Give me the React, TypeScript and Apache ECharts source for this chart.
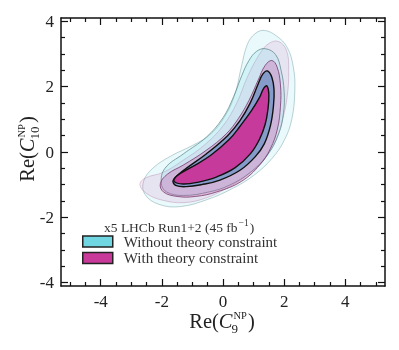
import React, { useEffect, useRef } from 'react';
import * as echarts from 'echarts';

const FONT = '"Liberation Serif", "DejaVu Serif", serif';

const X_RANGE = [-5.3, 5.3];
const Y_RANGE = [-4.1, 4.1];
const X_MAJOR = [-4, -2, 0, 2, 4];
const Y_MAJOR = [-4, -2, 0, 2, 4];
const X_MINOR = [-5, -4.5, -3.5, -3, -2.5, -1.5, -1, -0.5, 0.5, 1, 1.5, 2.5, 3, 3.5, 4.5, 5];
const Y_MINOR = [-3.5, -3, -2.5, -1.5, -1, -0.5, 0.5, 1, 1.5, 2.5, 3, 3.5];

const SERIES_NAMES = ['Without theory constraint', 'With theory constraint'];
const LEGEND_TITLE = 'x5 LHCb Run1+2 (45 fb';
const LEGEND_TITLE_SUP = '\u22121';
const X_TITLE_SUB = '9';
const Y_TITLE_SUB = '10';

// Contour outlines (Re C9, Re C10)
const cyan3 = [
  [1.35, 3.72], [1.75, 3.55], [2.1, 3.2], [2.3, 2.6], [2.35, 1.9], [2.25, 1.0], [2.0, 0.35],
  [1.6, -0.2], [1.0, -0.72], [0.3, -1.12], [-0.5, -1.45], [-1.4, -1.67], [-2.1, -1.6],
  [-2.55, -1.3], [-2.6, -0.9], [-2.3, -0.5], [-1.7, -0.12], [-1.0, 0.2], [-0.4, 0.55],
  [0.1, 1.15], [0.4, 1.8], [0.6, 2.6], [0.8, 3.3], [1.05, 3.62],
];
const magenta3 = [
  [1.82, 3.38], [2.08, 3.1], [2.15, 2.5], [2.1, 1.7], [1.95, 1.0], [1.72, 0.35], [1.35, -0.2],
  [0.8, -0.7], [0.1, -1.12], [-0.6, -1.42], [-1.3, -1.55], [-2.0, -1.47], [-2.5, -1.27],
  [-2.72, -1.0], [-2.55, -0.8], [-1.95, -0.62], [-1.3, -0.25], [-0.6, 0.22], [0.0, 0.8],
  [0.45, 1.5], [0.8, 2.3], [1.2, 3.0], [1.5, 3.32],
];
const cyan2 = [
  [1.39, 3.16], [1.72, 2.98], [1.9, 2.5], [2.0, 1.85], [1.98, 1.2], [1.82, 0.55], [1.45, -0.1],
  [0.9, -0.62], [0.2, -1.02], [-0.45, -1.22], [-1.3, -1.33], [-1.85, -1.22], [-2.02, -0.95],
  [-1.9, -0.5], [-1.3, -0.06], [-0.55, 0.45], [0.0, 1.05], [0.35, 1.7], [0.62, 2.35],
  [0.85, 2.8], [1.1, 3.08],
];
const magenta2 = [
  [1.6, 2.8], [1.77, 2.6], [1.88, 2.05], [1.88, 1.4], [1.78, 0.7], [1.55, 0.1], [1.2, -0.4],
  [0.6, -0.9], [-0.2, -1.22], [-0.9, -1.36], [-1.5, -1.36], [-1.95, -1.22], [-2.05, -0.97],
  [-1.82, -0.68], [-1.3, -0.4], [-0.55, 0.05], [0.1, 0.55], [0.5, 1.02], [0.85, 1.58],
  [1.15, 2.2], [1.38, 2.65],
];
const cyan1 = [
  [1.45, 2.48], [1.6, 2.28], [1.67, 1.9], [1.65, 1.4], [1.55, 0.8], [1.35, 0.25], [1.05, -0.15],
  [0.57, -0.55], [-0.1, -0.86], [-0.7, -1.0], [-1.2, -1.06], [-1.55, -1.02], [-1.63, -0.87],
  [-1.3, -0.57], [-0.55, -0.06], [0.15, 0.5], [0.55, 0.95], [0.88, 1.48], [1.15, 2.08],
  [1.3, 2.38],
];
const magenta1 = [
  [1.44, 2.02], [1.5, 1.75], [1.47, 1.3], [1.38, 0.85], [1.2, 0.4], [0.9, -0.05], [0.4, -0.48],
  [-0.2, -0.76], [-0.8, -0.92], [-1.3, -0.98], [-1.6, -0.9], [-1.52, -0.74], [-1.0, -0.45],
  [-0.4, -0.1], [0.2, 0.38], [0.55, 0.78], [0.92, 1.25], [1.2, 1.68], [1.33, 1.95],
];

const LAYERS = [
  { name: SERIES_NAMES[0], data: cyan3, fill: 'rgba(111,216,228,0.15)', stroke: 'rgba(120,165,170,0.5)', lw: 1 },
  { name: SERIES_NAMES[1], data: magenta3, fill: 'rgba(200,56,154,0.11)', stroke: 'rgba(185,140,175,0.45)', lw: 1 },
  { name: SERIES_NAMES[0], data: cyan2, fill: 'rgba(111,216,228,0.2)', stroke: 'rgba(90,130,135,0.7)', lw: 1 },
  { name: SERIES_NAMES[1], data: magenta2, fill: 'rgba(200,56,154,0.26)', stroke: 'rgba(110,50,100,0.75)', lw: 1 },
  { name: SERIES_NAMES[0], data: cyan1, fill: 'rgba(88,140,192,0.62)', stroke: '#111', lw: 1.4 },
  { name: SERIES_NAMES[1], data: magenta1, fill: 'rgba(200,56,154,0.97)', stroke: '#111', lw: 1.4 },
];

const LEGEND_COLORS = ['#6fd6e2', '#c8399a'];

function measure(text: string, size: number, italic = false) {
  const ctx = document.createElement('canvas').getContext('2d') as CanvasRenderingContext2D;
  ctx.font = `${italic ? 'italic ' : ''}${size}px ${FONT}`;
  return ctx.measureText(text).width;
}

function txt(text: string, x: number, y: number, size: number, italic = false) {
  return {
    type: 'text',
    x,
    y,
    silent: true,
    style: {
      text,
      fontFamily: FONT,
      fontSize: size,
      fontStyle: italic ? 'italic' : 'normal',
      fill: '#222',
      align: 'left',
      verticalAlign: 'middle',
      textAlign: 'left',
      textVerticalAlign: 'middle',
    },
  };
}

function mathLabel(sub: string, cx: number, cy: number, rotation: number) {
  const big = 20.5;
  const supS = 10.5;
  const subS = 13;
  const w1 = measure('Re(', big);
  const w2 = measure('C', big, true);
  const wSup = measure('NP', supS);
  const wSub = measure(sub, subS);
  const w5 = measure(')', big);
  const mid = Math.max(wSup + 2, wSub);
  const W = w1 + w2 + mid + w5;
  const x0 = -W / 2;
  return {
    type: 'group',
    x: cx,
    y: cy,
    rotation,
    silent: true,
    children: [
      txt('Re(', x0, 0, big),
      txt('C', x0 + w1, 0, big, true),
      txt('NP', x0 + w1 + w2 + 1, -6, supS),
      txt(sub, x0 + w1 + w2 - 1, 7, subS),
      txt(')', x0 + w1 + w2 + mid, 0, big),
    ],
  };
}

function legendTitle(left: number, cy: number) {
  const s = 13.5;
  const w = measure(LEGEND_TITLE, s);
  const ws = measure(LEGEND_TITLE_SUP, 9.5);
  const mk = (t: string, x: number, y: number, size: number) => {
    const e: any = txt(t, x, y, size);
    e.style.fill = '#333';
    return e;
  };
  return {
    type: 'group',
    x: left,
    y: cy,
    silent: true,
    children: [
      mk(LEGEND_TITLE, 0, 0, s),
      mk(LEGEND_TITLE_SUP, w + 1, -4, 9.5),
      mk(')', w + ws + 2, 0, s),
    ],
  };
}

export default function App() {
  const ref = useRef<HTMLDivElement>(null);
  useEffect(() => {
    if (!ref.current) return;
    const chart = echarts.init(ref.current, undefined, { renderer: 'svg' });
    const lineOn = { show: true, onZero: false, lineStyle: { color: '#111', width: 1.5 } };
    const lineOff = { show: false, onZero: false };
    const mkAxis = (range: number[], position: string, ticks: number[], len: number, labels: boolean, line: boolean) => ({
      type: 'value',
      position,
      min: range[0],
      max: range[1],
      axisLine: line ? lineOn : lineOff,
      splitLine: { show: false },
      axisTick: { show: true, inside: true, length: len, customValues: ticks, lineStyle: { color: '#111', width: 1.2 } },
      axisLabel: labels
        ? { show: true, customValues: ticks, fontFamily: FONT, fontSize: 17, color: '#222', margin: 7 }
        : { show: false },
    });

    const series = LAYERS.map((layer) => ({
      type: 'custom',
      name: layer.name,
      xAxisIndex: 0,
      yAxisIndex: 0,
      data: layer.data,
      itemStyle: { color: layer.fill },
      renderItem: (params: any, api: any) => {
        if (params.dataIndex !== 0) return null;
        const pts = layer.data.map((p) => api.coord(p));
        return {
          type: 'polygon',
          shape: { points: pts, smooth: 0.4 },
          style: { fill: layer.fill, stroke: layer.stroke, lineWidth: layer.lw },
        };
      },
    }));

    chart.setOption({
      animation: false,
      grid: { left: 61, right: 14, top: 18, bottom: 64 },
      xAxis: [
        mkAxis(X_RANGE, 'bottom', X_MAJOR, 7, true, true),
        mkAxis(X_RANGE, 'bottom', X_MINOR, 4, false, false),
        mkAxis(X_RANGE, 'top', X_MAJOR, 7, false, true),
        mkAxis(X_RANGE, 'top', X_MINOR, 4, false, false),
      ],
      yAxis: [
        mkAxis(Y_RANGE, 'left', Y_MAJOR, 7, true, true),
        mkAxis(Y_RANGE, 'left', Y_MINOR, 4, false, false),
        mkAxis(Y_RANGE, 'right', Y_MAJOR, 7, false, true),
        mkAxis(Y_RANGE, 'right', Y_MINOR, 4, false, false),
      ],
      legend: {
        orient: 'vertical',
        left: 82,
        top: 233.5,
        padding: 0,
        itemWidth: 30,
        itemHeight: 11,
        itemGap: 0.5,
        selectedMode: false,
        textStyle: { fontFamily: FONT, fontSize: 15, color: '#333', lineHeight: 16, padding: [0, 0, 0, 6] },
        data: SERIES_NAMES.map((n, i) => ({
          name: n,
          icon: 'rect',
          itemStyle: { color: LEGEND_COLORS[i], borderColor: '#222', borderWidth: 1.5 },
        })),
      },
      graphic: [
        mathLabel(X_TITLE_SUB, 222, 321, 0),
        mathLabel(Y_TITLE_SUB, 27, 149, Math.PI / 2),
        legendTitle(104, 227),
      ],
      series,
    });
    return () => chart.dispose();
  }, []);
  return <div ref={ref} style={{ position: 'fixed', left: 0, top: 0, width: 399, height: 350 }} />;
}
